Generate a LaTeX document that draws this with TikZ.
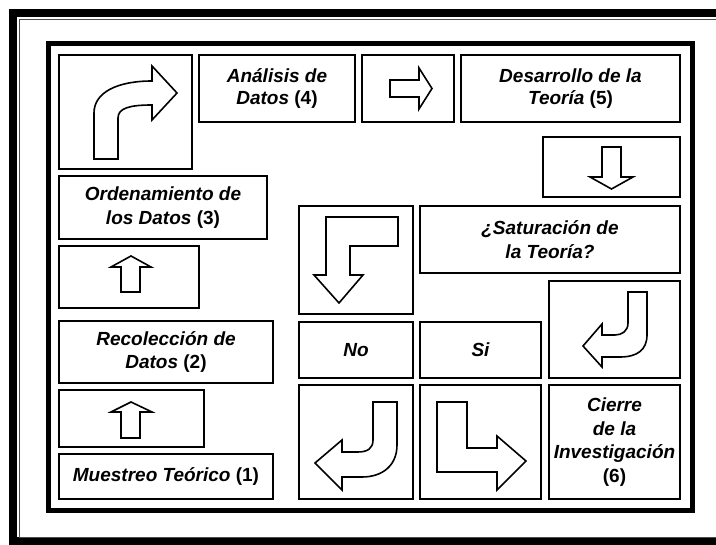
\documentclass[tikz,border=0pt]{standalone}
\usepackage{fontspec}
\setmainfont{Liberation Sans}

\begin{document}
\begin{tikzpicture}[x=1pt,y=-1pt,
  box node/.style={draw,line width=2pt,inner sep=0pt,align=center,
    font=\bfseries\itshape\fontsize{19}{23.5}\selectfont},
  arrow shape/.style={draw,line width=1.6pt,line join=miter,fill=white}]

  \useasboundingbox (0,0) rectangle (716,545);
  \clip (0,0) rectangle (716,545);

  % frames
  \draw[line width=8pt] (716,13.5) -- (12.5,13.5) -- (12.5,541.5) -- (716,541.5);
  \draw[line width=0.8pt,black!70] (716,19) -- (19,19) -- (19,537.5) -- (716,537.5);
  \draw[line width=5pt] (48.5,43.5) rectangle (692.5,510.5);

  % boxes
  \node[box node,minimum width=133pt,minimum height=114pt] (turn1) at (125.5,112) {};
  \node[box node,minimum width=156pt,minimum height=67pt] (ana) at (277,88.5) {An\'alisis de\\[-2pt]Datos \textup{(4)}};
  \node[box node,minimum width=92pt,minimum height=67pt] (go1) at (408,88.5) {};
  \node[box node,minimum width=219pt,minimum height=67pt] (des) at (570.5,88.5) {Desarrollo de la\\[-2pt]Teor\'ia \textup{(5)}};
  \node[box node,minimum width=137pt,minimum height=60pt] (go2) at (611.5,167) {};
  \node[box node,minimum width=208pt,minimum height=63pt] (ord) at (163,207.5) {Ordenamiento de\\los Datos \textup{(3)}};
  \node[box node,minimum width=140pt,minimum height=62pt] (up2) at (129,277) {};
  \node[box node,minimum width=214pt,minimum height=62pt] (rec) at (166,352) {Recolecci\'on de\\Datos \textup{(2)}};
  \node[box node,minimum width=145pt,minimum height=57pt] (up1) at (131.5,418.5) {};
  \node[box node,minimum width=214pt,minimum height=45pt] (mue) at (166,476.5) {Muestreo Te\'orico \textup{(1)}};
  \node[box node,minimum width=114pt,minimum height=108pt] (back1) at (356,260) {};
  \node[box node,minimum width=260pt,minimum height=67pt] (sat) at (550,239.5) {¿Saturaci\'on de\\la Teor\'ia?};
  \node[box node,minimum width=131pt,minimum height=97pt] (turn2) at (614.5,329.5) {};
  \node[box node,minimum width=114pt,minimum height=56pt] (no) at (356,350) {No};
  \node[box node,minimum width=121pt,minimum height=56pt] (si) at (480.5,350) {Si};
  \node[box node,minimum width=114pt,minimum height=114pt] (back2) at (356,442) {};
  \node[box node,minimum width=121pt,minimum height=114pt] (go3) at (480.5,442) {};
  \node[box node,minimum width=131pt,minimum height=114pt] (cie) at (614.5,442) {Cierre\\de la\\Investigaci\'on\\\textup{(6)}};

  % arrows inside the boxes
  \draw[arrow shape] (94,159) -- (94,113) .. controls (94,92) and (118,81) .. (152,81)
    -- (152,66) -- (177,93) -- (152,120) -- (152,105)
    .. controls (130,105) and (118,108) .. (118,118) -- (118,159) -- cycle;
  \draw[arrow shape] (390,80) -- (419,80) -- (419,68) -- (432,88.5) -- (419,109)
    -- (419,97) -- (390,97) -- cycle;
  \draw[arrow shape] (602,147) -- (621,147) -- (621,177) -- (633,177) -- (611.5,189)
    -- (590,177) -- (602,177) -- cycle;
  \draw[arrow shape] (121,292) -- (121,267) -- (111,267) -- (131,256) -- (151,267)
    -- (140,267) -- (140,292) -- cycle;
  \draw[arrow shape] (121,438) -- (121,412) -- (111,412) -- (131,402) -- (152,412)
    -- (140,412) -- (140,438) -- cycle;
  \draw[arrow shape] (326,217) -- (398,217) -- (398,246) -- (350,246) -- (350,275)
    -- (363,275) -- (339,303) -- (314,275) -- (326,275) -- cycle;
  \draw[arrow shape] (373,402) -- (397,402) -- (397,445) .. controls (397,465) and (383,477) .. (362,477)
    -- (342,477) -- (342,490) -- (315,463) -- (342,440) -- (342,452) -- (358,452)
    .. controls (368,452) and (373,448) .. (373,440) -- cycle;
  \draw[arrow shape] (437,402) -- (467,402) -- (467,448) -- (497,448) -- (497,436)
    -- (526,461) -- (497,490) -- (497,472) -- (437,472) -- cycle;
  \draw[arrow shape] (628,292) -- (647,292) -- (647,335) .. controls (647,350) and (637,357) .. (620,357)
    -- (602,357) -- (602,367) -- (583,346) -- (602,324) -- (602,335) -- (615,335)
    .. controls (622,335) and (628,331) .. (628,323) -- cycle;
\end{tikzpicture}
\end{document}
